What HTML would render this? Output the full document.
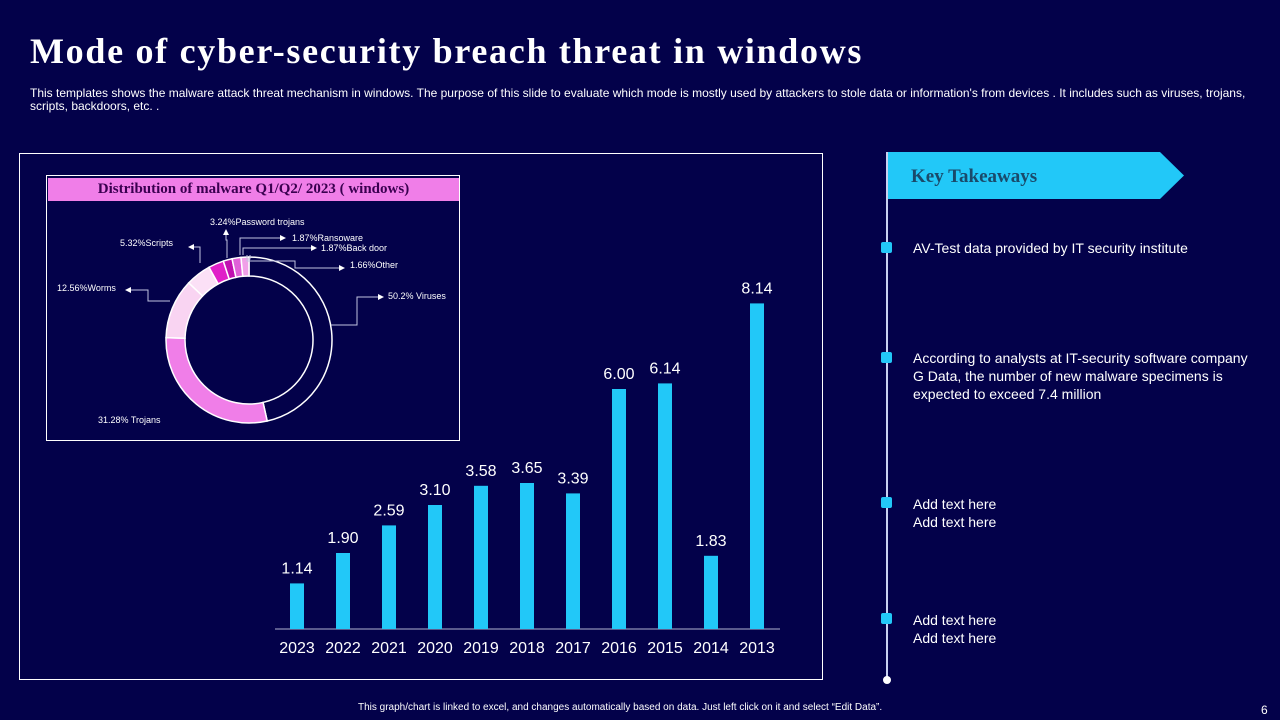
<!DOCTYPE html>
<html><head><meta charset="utf-8">
<style>
body{margin:0;background:#03014a;}
#root{position:relative;width:1280px;height:720px;overflow:hidden;background:#03014a;font-family:"Liberation Sans",sans-serif;color:#fff;}
.abs{position:absolute;}
</style></head>
<body>
<div id="root">
<div class="abs" style="left:30px;top:30px;font-family:'Liberation Serif',serif;font-weight:bold;font-size:36px;letter-spacing:1.7px;white-space:nowrap;">Mode of cyber-security breach threat in windows</div>
<div class="abs" style="left:30px;top:87px;width:1250px;font-size:12px;line-height:13px;">This templates shows the malware attack threat mechanism in windows. The purpose of this slide to evaluate which mode is mostly used by attackers to stole data or information's from devices . It includes such as viruses, trojans, scripts, backdoors, etc. .</div>
<div class="abs" style="left:19px;top:153px;width:802px;height:525px;border:1px solid #fff;"></div>
<div class="abs" style="left:46px;top:175px;width:412px;height:264px;border:1px solid #fff;"></div>
<div class="abs" style="left:48px;top:178px;width:411px;height:23px;background:#f07ee8;color:#3a0050;font-family:'Liberation Serif',serif;font-weight:bold;font-size:15px;line-height:23px;text-align:center;">Distribution of malware Q1/Q2/ 2023 ( windows)</div>
<svg id="chart" class="abs" style="left:0;top:0" width="1280" height="720">
<defs><marker id="arr" markerWidth="6" markerHeight="6" refX="5" refY="3" orient="auto"><path d="M0,0 L6,3 L0,6 Z" fill="#fff"/></marker></defs>
</svg>
<div class="abs" style="left:887px;top:152px;width:297px;height:47px;background:#22c8f8;clip-path:polygon(0 0,273px 0,297px 23.5px,273px 47px,0 47px);"></div>
<div class="abs" style="left:911px;top:166px;font-family:'Liberation Serif',serif;font-weight:bold;font-size:19px;color:#1a4a6a;">Key Takeaways</div>
<div class="abs" style="left:886px;top:152px;width:2px;height:528px;background:#c8d0f0;"></div>
<div class="abs" style="left:883px;top:676px;width:8px;height:8px;border-radius:50%;background:#fff;"></div>
<div class="abs" style="left:881px;top:242px;width:11px;height:11px;border-radius:2px;background:#22c8f8;"></div>
<div class="abs" style="left:881px;top:352px;width:11px;height:11px;border-radius:2px;background:#22c8f8;"></div>
<div class="abs" style="left:881px;top:497px;width:11px;height:11px;border-radius:2px;background:#22c8f8;"></div>
<div class="abs" style="left:881px;top:613px;width:11px;height:11px;border-radius:2px;background:#22c8f8;"></div>
<div class="abs" style="left:913px;top:239px;font-size:14px;line-height:18px;">AV-Test data provided by IT security institute</div>
<div class="abs" style="left:913px;top:349px;width:345px;font-size:14px;line-height:18px;">According to analysts at IT-security software company G Data, the number of new malware specimens is expected to exceed 7.4 million</div>
<div class="abs" style="left:913px;top:495px;font-size:14px;line-height:18px;">Add text here<br>Add text here</div>
<div class="abs" style="left:913px;top:611px;font-size:14px;line-height:18px;">Add text here<br>Add text here</div>
<div class="abs" style="left:358px;top:702px;font-size:10px;">This graph/chart is linked to excel, and changes automatically based on data. Just left click on it and select “Edit Data”.</div>
<div class="abs" style="left:1261px;top:703px;font-size:12px;">6</div>
</div>
<script>
const years=["2023","2022","2021","2020","2019","2018","2017","2016","2015","2014","2013"];
const threats=[1.14,1.90,2.59,3.10,3.58,3.65,3.39,6.00,6.14,1.83,8.14];
const sliceNames=["Viruses","Trojans","Worms","Scripts","Password trojans","Ransoware","Back door","Other"];
const sliceValues=[50.2,31.28,12.56,5.32,3.24,1.87,1.87,1.66];
const sliceLabels=["50.2% Viruses","31.28% Trojans","12.56%Worms","5.32%Scripts","3.24%Password trojans","1.87%Ransoware","1.87%Back door","1.66%Other"];
const NS="http://www.w3.org/2000/svg";
const svg=document.getElementById('chart');
function mk(t,a){const e=document.createElementNS(NS,t);for(const k in a)e.setAttribute(k,a[k]);svg.appendChild(e);return e;}
const x0=297,step=46,base=629,pxPerUnit=40;
const xPos=i=>x0+i*step;
const yPos=v=>base-v*pxPerUnit;
const axis=mk('line',{x1:275,y1:base,x2:780,y2:base,stroke:'#b0b4d0','stroke-width':1});


threats.forEach((v,i)=>{
  const r=mk('rect',{x:xPos(i)-7,y:yPos(v),width:14,height:base-yPos(v),fill:'#22c8f8'});
  
  
  const t=mk('text',{x:xPos(i),y:yPos(v)-10,'text-anchor':'middle','font-size':16,fill:'#fff'});
  t.textContent=v.toFixed(2);
  
  
  const l=mk('text',{x:xPos(i),y:653,'text-anchor':'middle','font-size':16,fill:'#fff'});
  l.textContent=years[i];
  
  
});
const cx=249,cy=340,ro=83,ri=64;
const colors=['#03014a','#f07ee8','#f9d4f2','#fbe0f6','#e020c8','#c010b0','#e060d8','#f0a0e8'];
const total=sliceValues.reduce((a,b)=>a+b,0);
let ang=0;
function pt(a,r){return [cx+r*Math.sin(a),cy-r*Math.cos(a)];}
sliceValues.forEach((v,i)=>{
  const a0=ang,a1=ang+v/total*2*Math.PI;ang=a1;
  const large=(a1-a0)>Math.PI?1:0;
  const p1=pt(a0,ro),p2=pt(a1,ro),p3=pt(a1,ri),p4=pt(a0,ri);
  const d=`M${p1} A${ro},${ro} 0 ${large} 1 ${p2} L${p3} A${ri},${ri} 0 ${large} 0 ${p4} Z`;
  const s=mk('path',{d:d,fill:colors[i],stroke:'#fff','stroke-width':1.5});
  
  
});
const lbl=[[388,299,'start'],[98,423,'start'],[57,291,'start'],[120,246,'start'],[210,225,'start'],[292,241,'start'],[321,251,'start'],[350,268,'start']];
sliceLabels.forEach((s,i)=>{
  const t=mk('text',{x:lbl[i][0],y:lbl[i][1],'text-anchor':lbl[i][2],'font-size':9,fill:'#fff'});
  t.textContent=s;
  
  
});
const leaders=["M331,325 L357,325 L357,297 L383,297","M170,301 L148,301 L148,290 L126,290","M200,263 L200,247 L189,247","M227,258 L227,240 L226,240 L226,230","M240,255 L240,238 L285,238","M243,255 L243,248 L316,248","M247,255 L247,261 L295,261 L295,268 L344,268","M250,255 L250,259 L248,259"];
leaders.forEach((d,i)=>{
  const p=mk('path',{d:d,fill:'none',stroke:'#c0c4e0','stroke-width':1});
  if(i<7)p.setAttribute('marker-end','url(#arr)');
  
  
});
</script>
</body></html>
